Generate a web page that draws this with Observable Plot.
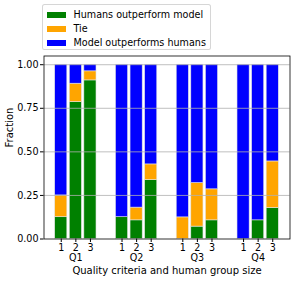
<!DOCTYPE html>
<html>
<head>
<meta charset="utf-8">
<script src="https://cdn.jsdelivr.net/npm/d3@7"></script>
<script src="https://cdn.jsdelivr.net/npm/@observablehq/plot@0.6"></script>
<style>
  html, body { margin: 0; padding: 0; background: #fff; }
  #wrap { position: relative; width: 295px; height: 281px; font-family: "DejaVu Sans", sans-serif; }
  #legend { position: absolute; left: 41.5px; top: 4px; width: 169px; height: 46px;
            border: 1px solid rgba(204,204,204,0.8); border-radius: 2.5px; background: rgba(255,255,255,0.8); box-sizing: border-box; }
  .row { position: absolute; left: 0; height: 14px; font-size: 9.6px; line-height: 14px; color: #000; white-space: nowrap; }
  .sw { position: absolute; left: 4px; top: 4px; width: 19px; height: 6.5px; }
  .lab { position: absolute; left: 31px; top: 0; }
</style>
</head>
<body>
<div id="wrap"></div>
<script>
// ---- data ----
const groups = ["Q1", "Q2", "Q3", "Q4"];
const sizes = ["1", "2", "3"];
const outcomes = ["Humans outperform model", "Tie", "Model outperforms humans"];
const colors = ["green", "orange", "blue"];
// fractions per group, per group size (1,2,3)
const humansWin = [
  [0.125, 0.785, 0.910],
  [0.125, 0.107, 0.338],
  [0.000, 0.071, 0.107],
  [0.000, 0.107, 0.178]
];
const ties = [
  [0.125, 0.106, 0.052],
  [0.000, 0.073, 0.090],
  [0.124, 0.250, 0.178],
  [0.000, 0.000, 0.267]
];
const modelWin = [
  [0.750, 0.109, 0.038],
  [0.875, 0.820, 0.572],
  [0.876, 0.679, 0.715],
  [1.000, 0.893, 0.555]
];
const yTicks = [0, 0.25, 0.5, 0.75, 1.0];

// ---- build table ----
const offset = 0.24, barW = 0.2;
const table = [];
const tickPos = [];
const tickLabel = new Map();
groups.forEach((g, gi) => {
  sizes.forEach((s, si) => {
    const pos = gi + (si - 1) * offset;
    tickPos.push(pos);
    tickLabel.set(pos, s);
    const vals = [humansWin[gi][si], ties[gi][si], modelWin[gi][si]];
    let acc = 0;
    vals.forEach((v, k) => {
      table.push({group: g, size: s, outcome: outcomes[k], x1: pos - barW / 2, x2: pos + barW / 2, y1: acc, y2: acc + v});
      acc += v;
    });
  });
});
const groupLabels = groups.map((g, gi) => ({name: g, pos: gi}));

const chart = Plot.plot({
  width: 295,
  height: 281,
  marginLeft: 43.5,
  marginRight: 5.5,
  marginTop: 55.5,
  marginBottom: 42.5,
  style: {fontFamily: "DejaVu Sans, sans-serif", fontSize: "9.6px", color: "#000", background: "transparent"},
  x: {type: "linear", domain: [-0.524, 3.524]},
  y: {domain: [0, 1.05]},
  color: {domain: outcomes, range: colors},
  marks: [
    Plot.rect(table.filter(d => d.y2 > d.y1), {x1: "x1", x2: "x2", y1: "y1", y2: "y2", fill: "outcome", stroke: "#e4e4e4", strokeWidth: 0.6}),
    Plot.ruleY(yTicks.filter(d => d > 0), {stroke: "#b0b0b0", strokeWidth: 0.8}),
    Plot.axisY({ticks: yTicks, tickFormat: d3.format(".2f"), tickSize: 3.5, tickPadding: 2, label: null, stroke: "#000"}),
    Plot.axisX({ticks: tickPos, tickFormat: d => tickLabel.get(d), tickSize: 3.5, tickPadding: 1.5, label: null}),
    Plot.text(groupLabels, {x: "pos", text: "name", frameAnchor: "bottom", lineAnchor: "top", dy: 14.8, fill: "#000"}),
    Plot.text(["Quality criteria and human group size"], {text: d => d, frameAnchor: "bottom", lineAnchor: "top", dy: 28.2, fill: "#000", fontSize: 10}),
    Plot.text(["Fraction"], {text: d => d, frameAnchor: "left", dx: -34.2, rotate: -90, fill: "#000", fontSize: 10}),
    Plot.frame({stroke: "#000", strokeWidth: 0.8})
  ]
});

const wrap = document.getElementById("wrap");
wrap.appendChild(chart);

// legend (HTML, overlaid above the plot frame)
const legend = document.createElement("div");
legend.id = "legend";
outcomes.forEach((o, i) => {
  const row = document.createElement("div");
  row.className = "row";
  row.style.top = (2.5 + i * 14) + "px";
  row.style.width = "100%";
  const sw = document.createElement("span");
  sw.className = "sw";
  sw.style.background = colors[i];
  const lab = document.createElement("span");
  lab.className = "lab";
  lab.textContent = o;
  row.appendChild(sw);
  row.appendChild(lab);
  legend.appendChild(row);
});
wrap.appendChild(legend);
chart.style.position = "absolute";
chart.style.left = "0";
chart.style.top = "0";
</script>
</body>
</html>
